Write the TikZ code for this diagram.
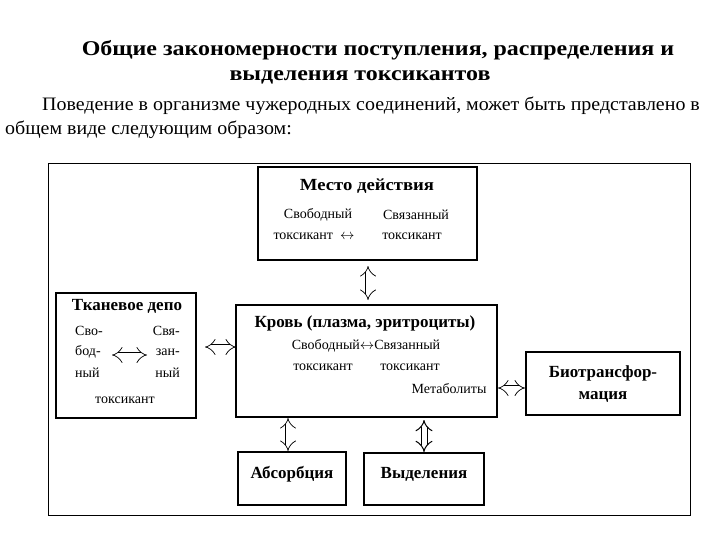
\documentclass[tikz,border=0pt]{standalone}
\usepackage{fontspec}
\setmainfont{Liberation Serif}
\usetikzlibrary{arrows.meta}
\begin{document}
\begin{tikzpicture}[x=1pt,y=-1pt,
  box/.style={draw,line width=1.2pt},
  dblb/.style={double,double distance=5pt,line width=0.7pt,{Implies[]}-{Implies[]}},
  t/.style={inner sep=0pt,font=\fontsize{14}{16}\selectfont},
  h/.style={inner sep=0pt,font=\fontsize{17}{19}\selectfont\bfseries}]
\useasboundingbox (0,0) rectangle (720,540);
\node[inner sep=0pt,font=\fontsize{21}{23}\selectfont\bfseries,xscale=1.14] (t1) at (378,50) {Общие закономерности поступления, распределения и};
\node[inner sep=0pt,font=\fontsize{21}{23}\selectfont\bfseries,xscale=1.14] (t2) at (360,77) {выделения токсикантов};
\node[inner sep=0pt,anchor=west,font=\fontsize{19}{21}\selectfont,xscale=1.05] (p1) at (42,106) {Поведение в организме чужеродных соединений, может быть представлено в};
\node[inner sep=0pt,anchor=west,font=\fontsize{19}{21}\selectfont,xscale=1.05] (p2) at (5,130) {общем виде следующим образом:};
\draw[line width=0.8pt] (48,163) rectangle (690,515);
% boxes
\draw[box] (258,167) rectangle (477,260);
\node[h,xscale=1.1] (m) at (367,186) {Место действия};
\node[t] (m1) at (318,215) {Свободный};
\node[t] (m2) at (416,215) {Связанный};
\node[t] (m3) at (314,236) {токсикант\ \ $\leftrightarrow$};
\node[t] (m4) at (412,236) {токсикант};
\draw[box] (56,293) rectangle (196,418);
\node[h] (d) at (127,306) {Тканевое депо};
\node[t,anchor=west] (d1) at (75,331) {Сво-};
\node[t,anchor=west] (d2) at (75,352) {бод-};
\node[t,anchor=west] (d3) at (75,373) {ный};
\node[t,anchor=east] (d4) at (180,331) {Свя-};
\node[t,anchor=east] (d5) at (180,352) {зан-};
\node[t,anchor=east] (d6) at (180,373) {ный};
\node[t] (d7) at (125,400) {токсикант};
\draw[box] (236,305) rectangle (497,417);
\node[h] (k) at (365,323) {Кровь (плазма, эритроциты)};
\node[t] (k1) at (366,346) {Свободный$\leftrightarrow$Связанный};
\node[t] (k2) at (323,367) {токсикант};
\node[t] (k3) at (410,367) {токсикант};
\node[t] (k4) at (449,389) {Метаболиты};
\draw[box] (526,352) rectangle (680,415);
\node[h] (b1) at (603,373) {Биотрансфор-};
\node[h] (b2) at (603,397) {мация};
\draw[box] (238,452) rectangle (346,505);
\node[h] (a) at (292,474) {Абсорбция};
\draw[box] (364,453) rectangle (484,505);
\node[h] (v) at (424,474) {Выделения};
% arrows
\coordinate (c1) at (368,266); \coordinate (c2) at (368,300);
\draw[dblb] (c1) -- (c2);
\coordinate (c3) at (205,347); \coordinate (c4) at (236,347);
\draw[dblb] (c3) -- (c4);
\coordinate (c5) at (112,355); \coordinate (c6) at (147,355);
\draw[dblb] (c5) -- (c6);
\coordinate (c7) at (498,388); \coordinate (c8) at (525,388);
\draw[dblb] (c7) -- (c8);
\coordinate (c9) at (288,418); \coordinate (c10) at (288,451);
\draw[dblb] (c9) -- (c10);
\coordinate (c11) at (424,420); \coordinate (c12) at (424,452);
\draw[dblb,line width=1pt] (c11) -- (c12);
\end{tikzpicture}
\end{document}
